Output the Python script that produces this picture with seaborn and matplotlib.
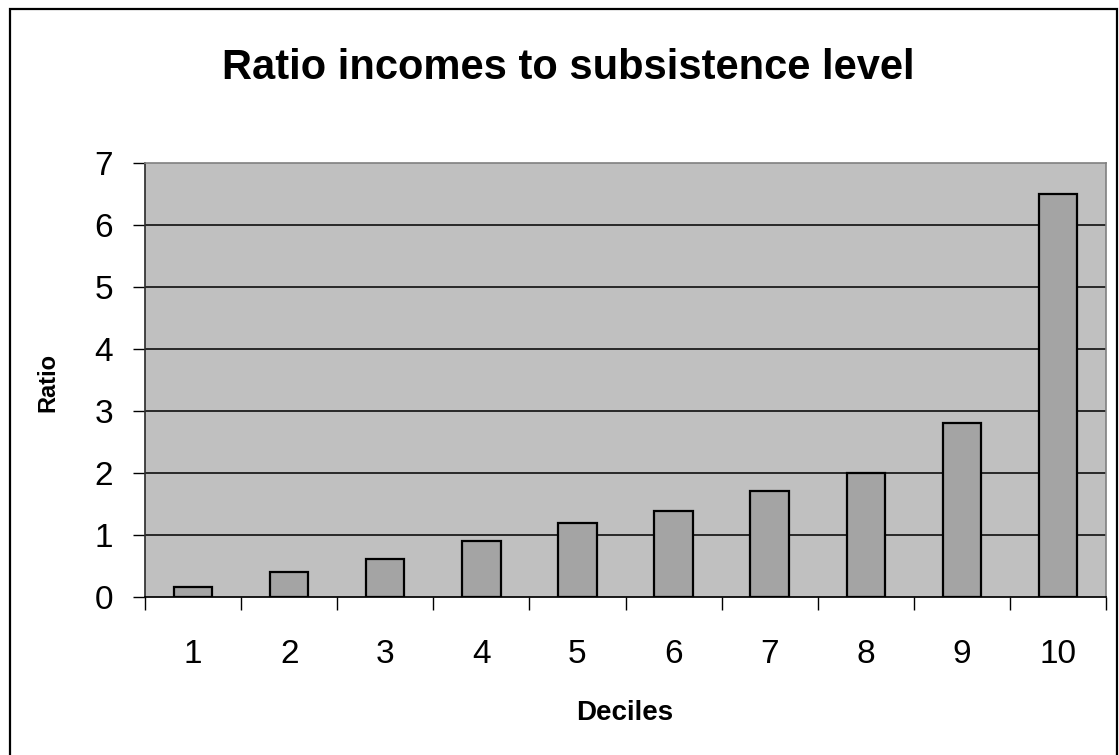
import matplotlib
matplotlib.use("Agg")
import matplotlib.pyplot as plt
from matplotlib.patches import Rectangle
from matplotlib.ticker import FixedLocator, NullFormatter
import numpy as np
import pandas as pd
import seaborn as sns

# Income-to-subsistence ratio by income decile
deciles = ["1", "2", "3", "4", "5", "6", "7", "8", "9", "10"]
ratios = [0.16, 0.40, 0.62, 0.90, 1.20, 1.39, 1.71, 2.00, 2.81, 6.50]
y_ticks = [0, 1, 2, 3, 4, 5, 6, 7]

df = pd.DataFrame({"Deciles": deciles, "Ratio": ratios})

sns.set_theme(style="white")
plt.rcParams["font.family"] = ["Liberation Sans", "DejaVu Sans"]
plt.rcParams["text.color"] = "black"
plt.rcParams["xtick.color"] = "black"
plt.rcParams["ytick.color"] = "black"
plt.rcParams["axes.labelcolor"] = "black"

fig = plt.figure(figsize=(11.19, 7.55), dpi=100)
ax = fig.add_axes([0.1296, 0.2089, 0.8588, 0.5748])
ax.set_facecolor("#C0C0C0")

sns.barplot(data=df, x="Deciles", y="Ratio", order=deciles, color="#A4A4A4",
            width=0.4, edgecolor="black", linewidth=1.6, saturation=1,
            ax=ax, zorder=3)

ax.set_ylim(0, 7)
ax.set_xlim(-0.5, len(deciles) - 0.5)
ax.set_yticks(y_ticks)
ax.set_yticklabels([str(t) for t in y_ticks], fontsize=24, color="black")
for t in y_ticks[1:-1]:
    ax.axhline(t, color="black", lw=1.1, zorder=1)

# Category boundaries carry the tick marks; labels sit at the bar centres
ax.xaxis.set_major_locator(FixedLocator(np.arange(-0.5, len(deciles), 1.0)))
ax.xaxis.set_major_formatter(NullFormatter())
ax.xaxis.set_minor_locator(FixedLocator(np.arange(len(deciles))))
ax.set_xticklabels(deciles, minor=True, fontsize=24, color="black")
ax.tick_params(axis="x", which="major", direction="out", length=9,
               width=1, color="black", bottom=True)
ax.tick_params(axis="x", which="minor", length=0, pad=30, bottom=True)
ax.tick_params(axis="y", direction="out", length=9, width=1,
               color="black", pad=14, left=True)

for side in ["top", "right"]:
    ax.spines[side].set_color("#808080")
    ax.spines[side].set_linewidth(1.2)
ax.spines["left"].set_color("#303030")
ax.spines["bottom"].set_color("black")
for side in ax.spines:
    ax.spines[side].set_visible(True)
    ax.spines[side].set_zorder(4)

ax.set_xlabel("")
ax.set_ylabel("")
fig.text(625 / 1119, 1 - 713 / 755, "Deciles", fontsize=20,
         fontweight="bold", ha="center", va="center", color="black")
fig.text(48 / 1119, 1 - 382 / 755, "Ratio", rotation=90, fontsize=17,
         fontweight="bold", ha="center", va="center", color="black")

fig.text(568 / 1119, 1 - 68 / 755, "Ratio incomes to subsistence level",
         fontsize=30, fontweight="bold", ha="center", va="center",
         color="black")

# Chart frame
fig.patches.append(Rectangle((10 / 1119, -0.01), 1107 / 1119, 1 - 9 / 755 + 0.01,
                             transform=fig.transFigure, fill=False,
                             edgecolor="black", linewidth=1.6))

fig.savefig("out.png", dpi=100, facecolor="white")
